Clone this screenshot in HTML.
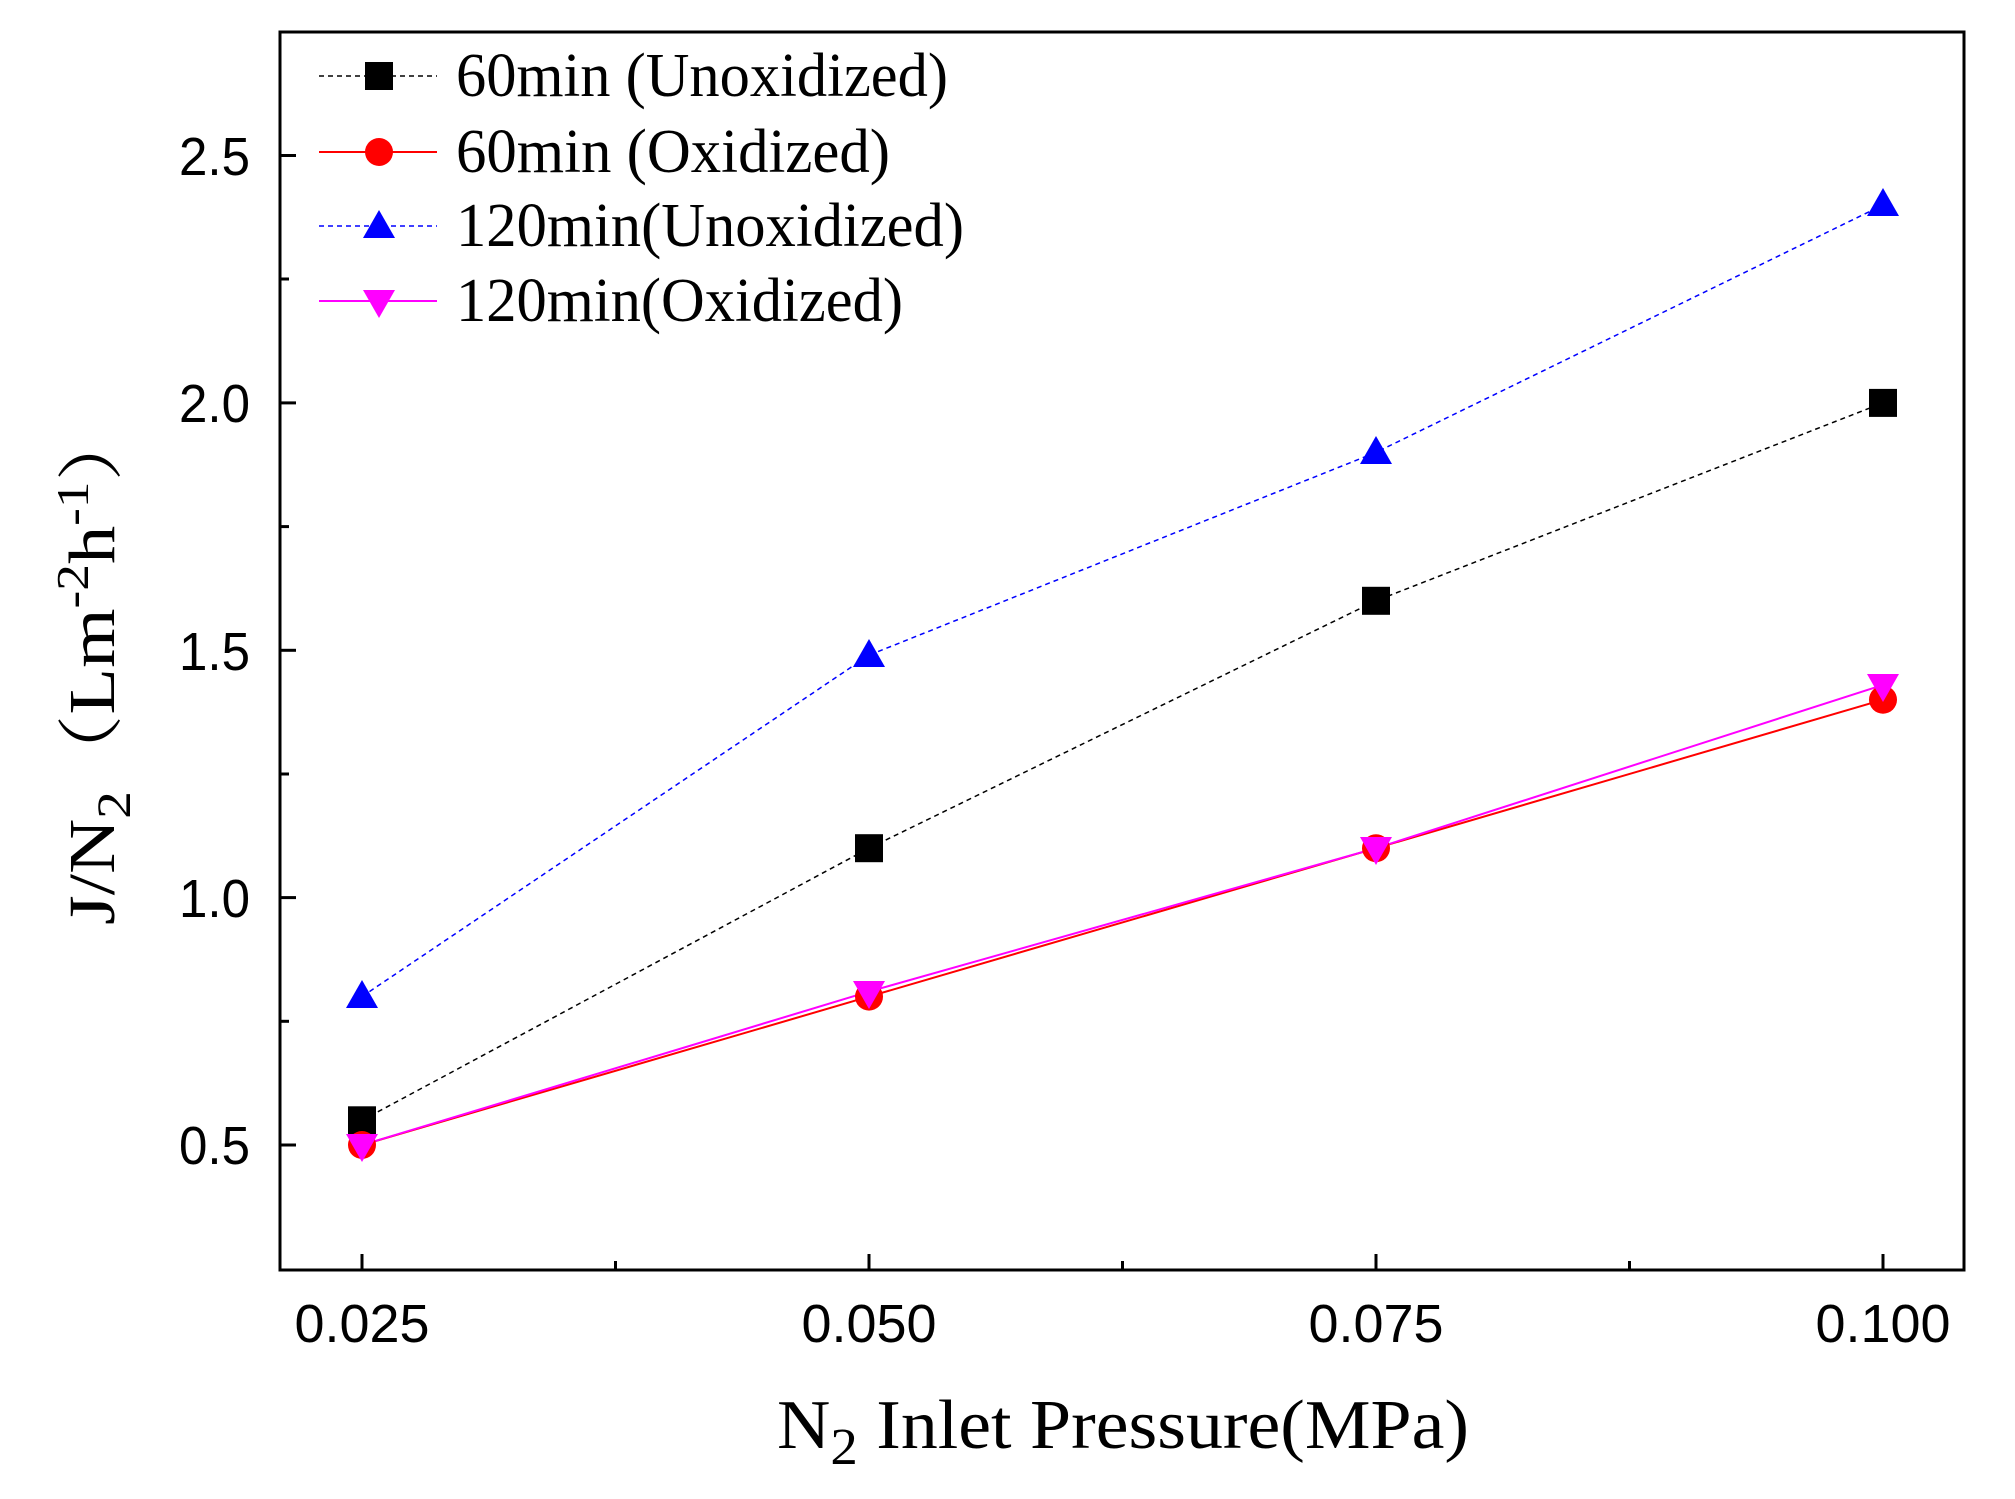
<!DOCTYPE html>
<html><head><meta charset="utf-8"><style>body{margin:0;background:#fff}svg{display:block}</style></head>
<body>
<svg width="2015" height="1499" viewBox="0 0 2015 1499" xmlns="http://www.w3.org/2000/svg">
<rect width="2015" height="1499" fill="#fff"/>
<rect x="280" y="32" width="1684" height="1238" fill="none" stroke="#000" stroke-width="3"/>
<g stroke="#000" stroke-width="3">
<line x1="362" y1="1270" x2="362" y2="1254"/><line x1="869" y1="1270" x2="869" y2="1254"/>
<line x1="1376" y1="1270" x2="1376" y2="1254"/><line x1="1883" y1="1270" x2="1883" y2="1254"/>
<line x1="615.5" y1="1270" x2="615.5" y2="1261"/><line x1="1122.5" y1="1270" x2="1122.5" y2="1261"/><line x1="1629.5" y1="1270" x2="1629.5" y2="1261"/>
<line x1="280" y1="1145" x2="296" y2="1145"/><line x1="280" y1="897.6" x2="296" y2="897.6"/>
<line x1="280" y1="650.3" x2="296" y2="650.3"/><line x1="280" y1="402.9" x2="296" y2="402.9"/><line x1="280" y1="155.5" x2="296" y2="155.5"/>
<line x1="280" y1="1021.3" x2="289" y2="1021.3"/><line x1="280" y1="774" x2="289" y2="774"/>
<line x1="280" y1="526.6" x2="289" y2="526.6"/><line x1="280" y1="279" x2="289" y2="279"/>
</g>
<g font-family="Liberation Sans, sans-serif" font-size="54" fill="#000" text-anchor="middle">
<text x="362" y="1342" textLength="135" lengthAdjust="spacingAndGlyphs">0.025</text>
<text x="869" y="1342" textLength="135" lengthAdjust="spacingAndGlyphs">0.050</text>
<text x="1376" y="1342" textLength="135" lengthAdjust="spacingAndGlyphs">0.075</text>
<text x="1883" y="1342" textLength="135" lengthAdjust="spacingAndGlyphs">0.100</text>
</g>
<g font-family="Liberation Sans, sans-serif" font-size="54" fill="#000" text-anchor="end">
<text x="250" y="1164" textLength="71" lengthAdjust="spacingAndGlyphs">0.5</text>
<text x="250" y="917" textLength="71" lengthAdjust="spacingAndGlyphs">1.0</text>
<text x="250" y="670" textLength="71" lengthAdjust="spacingAndGlyphs">1.5</text>
<text x="250" y="422" textLength="71" lengthAdjust="spacingAndGlyphs">2.0</text>
<text x="250" y="175" textLength="71" lengthAdjust="spacingAndGlyphs">2.5</text>
</g>
<text x="777" y="1448" font-family="Liberation Serif, serif" font-size="70" textLength="692" lengthAdjust="spacingAndGlyphs">N<tspan font-size="52" dy="16">2</tspan><tspan dy="-16"> Inlet Pressure(MPa)</tspan></text>
<text transform="translate(114,925) rotate(-90)" font-family="Liberation Serif, 'Noto Serif CJK SC', serif" font-size="66" textLength="520" lengthAdjust="spacingAndGlyphs">J/N<tspan font-size="48" dy="16">2</tspan><tspan dy="-16">（Lm</tspan><tspan font-size="46" dy="-26">-2</tspan><tspan dy="26">h</tspan><tspan font-size="46" dy="-26">-1</tspan><tspan dy="26">）</tspan></text>
<!-- series -->
<polyline points="362,1120.3 869,848.2 1376,600.8 1883,402.9" fill="none" stroke="#000" stroke-width="1.5" stroke-dasharray="5,4"/>
<polyline points="362,1145 869,996.6 1376,848.2 1883,699.7" fill="none" stroke="#f00" stroke-width="2"/>
<polyline points="362,996.6 869,655.2 1376,452.4 1883,205" fill="none" stroke="#00f" stroke-width="1.5" stroke-dasharray="5,4"/>
<polyline points="362,1145 869,991.6 1376,848.2 1883,684.9" fill="none" stroke="#f0f" stroke-width="2"/>
<g fill="#000"><rect x="348" y="1106.3" width="28" height="28"/><rect x="855" y="834.2" width="28" height="28"/><rect x="1362" y="586.8" width="28" height="28"/><rect x="1869" y="388.9" width="28" height="28"/></g>
<g fill="#f00"><circle cx="362" cy="1145" r="14"/><circle cx="869" cy="996.6" r="14"/><circle cx="1376" cy="848.2" r="14"/><circle cx="1883" cy="699.7" r="14"/></g>
<g fill="#00f"><polygon points="362,980 378,1008 346,1008"/><polygon points="869,639 885,667 853,667"/><polygon points="1376,436 1392,464 1360,464"/><polygon points="1883,188 1899,216 1867,216"/></g>
<g fill="#f0f"><polygon points="346,1134 378,1134 362,1162"/><polygon points="853,981 885,981 869,1009"/><polygon points="1360,837 1392,837 1376,865"/><polygon points="1867,674 1899,674 1883,702"/></g>
<!-- legend -->
<line x1="319" y1="76" x2="437" y2="76" stroke="#000" stroke-width="1.5" stroke-dasharray="5,4"/><rect x="365" y="62" width="28" height="28"/>
<line x1="319" y1="152" x2="437" y2="152" stroke="#f00" stroke-width="2"/><circle cx="379" cy="152" r="14" fill="#f00"/>
<line x1="319" y1="226" x2="437" y2="226" stroke="#00f" stroke-width="1.5" stroke-dasharray="5,4"/><polygon points="379,210 395,238 363,238" fill="#00f"/>
<line x1="319" y1="301" x2="437" y2="301" stroke="#f0f" stroke-width="2"/><polygon points="363,290 395,290 379,318" fill="#f0f"/>
<g font-family="Liberation Serif, serif" font-size="62" fill="#000">
<text x="456" y="96" textLength="492" lengthAdjust="spacingAndGlyphs">60min (Unoxidized)</text>
<text x="456" y="172" textLength="434" lengthAdjust="spacingAndGlyphs">60min (Oxidized)</text>
<text x="456" y="246" textLength="508" lengthAdjust="spacingAndGlyphs">120min(Unoxidized)</text>
<text x="456" y="321" textLength="447" lengthAdjust="spacingAndGlyphs">120min(Oxidized)</text>
</g>
</svg>
</body></html>
